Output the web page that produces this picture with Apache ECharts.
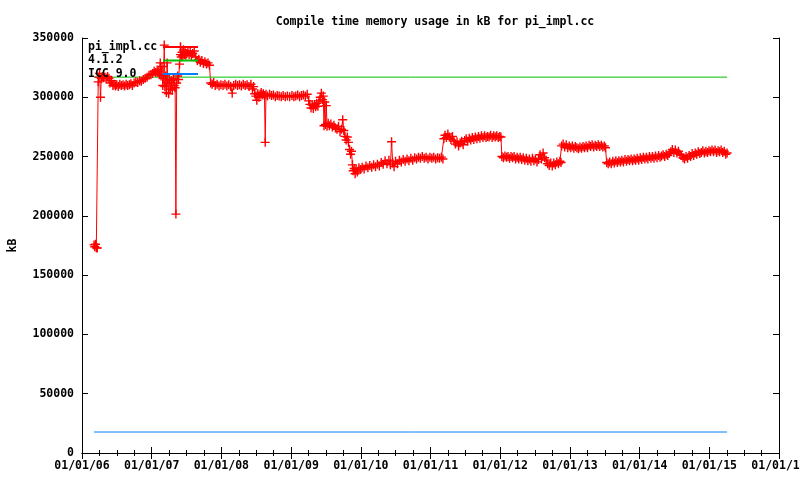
<!DOCTYPE html>
<html>
<head>
<meta charset="utf-8">
<script src="https://cdn.jsdelivr.net/npm/echarts@6/dist/echarts.min.js"></script>
<style>html,body{margin:0;padding:0;background:#fff}#c{width:800px;height:480px}</style>
</head>
<body>
<div id="c"></div>
<script>
// ---- data (kB) ----
const chartTitle = 'Compile time memory usage in kB for pi_impl.cc';
const seriesNames = ['pi_impl.cc', '4.1.2', 'ICC 9.0'];
const xRange = ['2006-01-01', '2016-01-01'];
const yTicks = [0, 50000, 100000, 150000, 200000, 250000, 300000, 350000];
const gcc412KB = 317000;
const icc90KB = 17700;
const refSpan = ['2006-03-05', '2015-04-04'];

const pi2006 = [
 ['2006-03-05',175500],['2006-03-09',174000],['2006-03-13',176000],['2006-03-17',173000],['2006-03-22',172900],
 ['2006-03-27',313000],['2006-03-30',317000],['2006-04-03',320000],['2006-04-08',300000],['2006-04-12',316000],
 ['2006-04-18',317500],['2006-04-24',316500],['2006-05-01',317000],['2006-05-08',316000],['2006-05-15',317500],
 ['2006-05-22',316000],['2006-05-28',312000],['2006-06-05',314000],['2006-06-12',310000],['2006-06-18',311000],
 ['2006-06-25',309500],['2006-07-02',310500],['2006-07-10',309000],['2006-07-18',311000],['2006-07-26',310000],
 ['2006-08-04',310500],['2006-08-12',309500],['2006-08-20',311000],['2006-08-28',310000],['2006-09-06',310500],
 ['2006-09-14',311500],['2006-09-22',310000],['2006-10-01',312000],['2006-10-10',313000],['2006-10-20',312500],
 ['2006-10-30',314000],['2006-11-08',313500],['2006-11-18',315000],['2006-11-28',316000],['2006-12-08',317000],
 ['2006-12-18',318500],['2006-12-28',319000]
];
const pi2007 = [
 ['2007-01-06',320000],['2007-01-14',322000],['2007-01-22',321000],['2007-01-30',323000],['2007-02-05',321500],
 ['2007-02-10',319000],['2007-02-15',329000],['2007-02-19',318000],['2007-02-24',326000],['2007-02-28',310000],
 ['2007-03-04',316000],['2007-03-08',344000],['2007-03-11',309000],['2007-03-15',318000],['2007-03-19',304000],
 ['2007-03-23',329000],['2007-03-27',312000],['2007-03-31',303000],['2007-04-04',315000],['2007-04-09',307000],
 ['2007-04-14',314000],['2007-04-19',306000],['2007-04-24',316000],['2007-04-29',310000],['2007-05-04',308000],
 ['2007-05-08',201500],['2007-05-12',312000],['2007-05-17',318000],['2007-05-22',315000],['2007-05-27',328000],
 ['2007-06-01',336000],['2007-06-05',334000],['2007-06-09',338000],['2007-06-13',335000],['2007-06-17',340000],
 ['2007-06-21',336000],['2007-06-25',338500],['2007-06-29',335500],['2007-07-04',337000],['2007-07-10',339000],
 ['2007-07-16',336000],['2007-07-22',338000],['2007-07-28',335000],['2007-08-04',337000],['2007-08-12',339000],
 ['2007-08-20',334000],['2007-08-28',331000],['2007-09-05',332000],['2007-09-13',329500],['2007-09-21',331000],
 ['2007-09-29',328500],['2007-10-07',330000],['2007-10-15',328000],['2007-10-23',329000],['2007-10-31',327000],
 ['2007-11-06',312000],['2007-11-14',311000],['2007-11-22',312500],['2007-11-30',310000],['2007-12-10',311000],
 ['2007-12-20',309500],['2007-12-30',310500]
];
const pi2008 = [
 ['2008-01-10',310000],['2008-01-20',311000],['2008-01-30',309500],['2008-02-09',310500],['2008-02-19',309000],
 ['2008-02-27',303500],['2008-03-06',310000],['2008-03-16',311000],['2008-03-26',310000],['2008-04-05',310500],
 ['2008-04-15',309500],['2008-04-25',311000],['2008-05-05',310000],['2008-05-15',310500],['2008-05-25',309000],
 ['2008-06-04',311000],['2008-06-12',307000],['2008-06-18',309000],['2008-06-24',303000],['2008-06-30',301000],
 ['2008-07-05',297500],['2008-07-10',303000],['2008-07-16',300000],['2008-07-22',302500],['2008-07-28',304000],
 ['2008-08-02',302000],['2008-08-08',303000],['2008-08-14',301500],['2008-08-18',262000],['2008-08-22',302500],
 ['2008-08-30',301000],['2008-09-10',302500],['2008-09-20',301500],['2008-09-30',302000],['2008-10-10',300500],
 ['2008-10-20',301500],['2008-10-30',301000],['2008-11-10',300500],['2008-11-20',301500],['2008-12-01',300500],
 ['2008-12-12',301000],['2008-12-24',300500]
];
const pi2009 = [
 ['2009-01-05',301500],['2009-01-15',300500],['2009-01-25',301000],['2009-02-04',302000],['2009-02-14',300500],
 ['2009-02-24',301500],['2009-03-06',302000],['2009-03-16',301000],['2009-03-26',302500],['2009-04-03',297000],
 ['2009-04-09',294000],['2009-04-15',291000],['2009-04-21',293500],['2009-04-27',290500],['2009-05-03',294000],
 ['2009-05-09',292000],['2009-05-15',295000],['2009-05-21',292500],['2009-05-27',297000],['2009-06-02',300000],
 ['2009-06-08',303500],['2009-06-14',298000],['2009-06-18',301000],['2009-06-22',276000],['2009-06-26',296000],
 ['2009-06-30',277000],['2009-07-04',293000],['2009-07-08',275500],['2009-07-14',278000],['2009-07-20',276000],
 ['2009-07-28',277500],['2009-08-05',275000],['2009-08-13',276500],['2009-08-21',274000],['2009-08-29',273000],
 ['2009-09-06',275500],['2009-09-14',271000],['2009-09-22',273000],['2009-09-28',281000],['2009-10-04',272000],
 ['2009-10-10',267000],['2009-10-16',264000],['2009-10-22',266500],['2009-10-28',262000],['2009-11-03',256000],
 ['2009-11-08',252000],['2009-11-13',254500],['2009-11-18',243000],['2009-11-22',238000],['2009-11-27',240000],
 ['2009-12-02',235500],['2009-12-07',239000],['2009-12-14',237000],['2009-12-22',240500],['2009-12-30',239000]
];
const pi2010 = [
 ['2010-01-08',241000],['2010-01-18',239500],['2010-01-28',242000],['2010-02-07',240500],['2010-02-17',242500],
 ['2010-02-27',241000],['2010-03-09',243000],['2010-03-19',241500],['2010-03-29',243500],['2010-04-08',242000],
 ['2010-04-18',245000],['2010-04-28',243500],['2010-05-08',246500],['2010-05-18',244000],['2010-05-28',247000],
 ['2010-06-05',243000],['2010-06-11',262500],['2010-06-17',244500],['2010-06-24',241500],['2010-07-02',246000],
 ['2010-07-12',244000],['2010-07-22',247000],['2010-08-01',245500],['2010-08-11',247500],['2010-08-21',246000],
 ['2010-08-31',248000],['2010-09-10',246500],['2010-09-20',248500],['2010-09-30',247000],['2010-10-10',249000],
 ['2010-10-20',248000],['2010-10-30',249500],['2010-11-09',248500],['2010-11-19',250000],['2010-11-29',248500],
 ['2010-12-09',249500],['2010-12-19',248000],['2010-12-29',249500]
];
const pi2011 = [
 ['2011-01-08',248500],['2011-01-18',249500],['2011-01-28',248000],['2011-02-07',249000],['2011-02-17',248500],
 ['2011-02-27',249500],['2011-03-07',248000],['2011-03-12',265000],['2011-03-18',268000],['2011-03-25',266000],
 ['2011-04-02',269000],['2011-04-10',266500],['2011-04-18',264500],['2011-04-26',267000],['2011-05-04',263000],
 ['2011-05-12',260500],['2011-05-20',262500],['2011-05-28',259000],['2011-06-05',261500],['2011-06-13',263000],
 ['2011-06-21',260000],['2011-06-29',263500],['2011-07-07',265000],['2011-07-15',263000],['2011-07-23',265500],
 ['2011-07-31',264000],['2011-08-08',266000],['2011-08-16',264500],['2011-08-24',266500],['2011-09-01',265000],
 ['2011-09-09',267000],['2011-09-17',265500],['2011-09-25',267500],['2011-10-03',266000],['2011-10-11',267500],
 ['2011-10-19',266000],['2011-10-27',267000],['2011-11-04',266500],['2011-11-12',268000],['2011-11-20',266000],
 ['2011-11-28',267500],['2011-12-06',266500],['2011-12-14',267500],['2011-12-22',266000],['2011-12-30',267000]
];
const pi2012 = [
 ['2012-01-05',266500],['2012-01-10',250000],['2012-01-18',249000],['2012-01-26',250500],['2012-02-03',249500],
 ['2012-02-11',250000],['2012-02-19',248500],['2012-02-27',250000],['2012-03-06',249000],['2012-03-14',250000],
 ['2012-03-22',248000],['2012-03-30',249500],['2012-04-07',248000],['2012-04-15',249500],['2012-04-23',247500],
 ['2012-05-01',249000],['2012-05-09',247000],['2012-05-17',248500],['2012-05-25',246500],['2012-06-02',248000],
 ['2012-06-10',246000],['2012-06-18',248500],['2012-06-26',246500],['2012-07-04',248000],['2012-07-12',245500],
 ['2012-07-20',247500],['2012-07-28',251500],['2012-08-05',248000],['2012-08-13',253000],['2012-08-21',249000],
 ['2012-08-29',247000],['2012-09-06',244000],['2012-09-14',242500],['2012-09-22',244500],['2012-09-30',242000],
 ['2012-10-08',244500],['2012-10-16',243000],['2012-10-24',245500],['2012-11-01',244000],['2012-11-09',246000],
 ['2012-11-15',245000],['2012-11-18',259000],['2012-11-26',260500],['2012-12-04',258000],['2012-12-12',260000],
 ['2012-12-20',257500],['2012-12-28',259000]
];
const pi2013 = [
 ['2013-01-05',257500],['2013-01-13',259000],['2013-01-21',257000],['2013-01-29',258500],['2013-02-06',257500],
 ['2013-02-14',256500],['2013-02-22',258000],['2013-03-02',257000],['2013-03-10',258500],['2013-03-18',257500],
 ['2013-03-26',259000],['2013-04-03',257500],['2013-04-11',259500],['2013-04-19',258500],['2013-04-27',260000],
 ['2013-05-05',258000],['2013-05-13',259500],['2013-05-21',258500],['2013-05-29',260000],['2013-06-06',258500],
 ['2013-06-14',259500],['2013-06-22',258000],['2013-06-30',259000],['2013-07-06',257500],['2013-07-12',245000],
 ['2013-07-20',244000],['2013-07-28',245500],['2013-08-05',244000],['2013-08-13',246000],['2013-08-21',244500],
 ['2013-08-29',246500],['2013-09-06',245000],['2013-09-14',246500],['2013-09-22',245500],['2013-09-30',247000],
 ['2013-10-08',245500],['2013-10-16',247500],['2013-10-24',246000],['2013-11-01',247500],['2013-11-09',246500],
 ['2013-11-17',248000],['2013-11-25',246500],['2013-12-03',248000],['2013-12-11',247000],['2013-12-19',248500],
 ['2013-12-27',247000]
];
const pi2014 = [
 ['2014-01-04',249000],['2014-01-12',247500],['2014-01-20',249500],['2014-01-28',248000],['2014-02-05',249500],
 ['2014-02-13',248000],['2014-02-21',250000],['2014-03-01',248500],['2014-03-09',250000],['2014-03-17',248500],
 ['2014-03-25',250500],['2014-04-02',249000],['2014-04-10',251000],['2014-04-18',249500],['2014-04-26',250500],
 ['2014-05-04',251500],['2014-05-12',250000],['2014-05-20',252000],['2014-05-28',251000],['2014-06-05',252500],
 ['2014-06-13',254000],['2014-06-21',256000],['2014-06-29',253500],['2014-07-07',255500],['2014-07-15',253000],
 ['2014-07-23',254500],['2014-07-31',252000],['2014-08-08',251000],['2014-08-16',249000],['2014-08-24',248000],
 ['2014-09-01',250000],['2014-09-09',248500],['2014-09-17',251000],['2014-09-25',250000],['2014-10-03',252500],
 ['2014-10-11',251000],['2014-10-19',253000],['2014-10-27',252000],['2014-11-04',254000],['2014-11-12',252500],
 ['2014-11-20',253500],['2014-11-28',255000],['2014-12-06',253000],['2014-12-14',254500],['2014-12-22',253500],
 ['2014-12-30',255000]
];
const pi2015 = [
 ['2015-01-07',254000],['2015-01-15',255500],['2015-01-23',254000],['2015-01-31',255500],['2015-02-08',253500],
 ['2015-02-16',255000],['2015-02-24',254000],['2015-03-04',255500],['2015-03-12',253500],['2015-03-20',254500],
 ['2015-03-28',252000],['2015-04-04',253000]
];

// ---- chart ----
const piImpl = [].concat(pi2006, pi2007, pi2008, pi2009, pi2010, pi2011, pi2012, pi2013, pi2014, pi2015);
const FONT = 'DejaVu Sans Mono';
const txt = { fontFamily: FONT, fontWeight: 'bold', fontSize: 11.5, color: '#000' };
const YEAR = 366 * 24 * 3600 * 1000;
const crossPath = 'path://M3.8,0H5.2V3.8H9V5.2H5.2V9H3.8V5.2H0V3.8H3.8Z';

const timeAxisBase = {
  type: 'time', min: xRange[0], max: xRange[1],
  maxInterval: YEAR, minInterval: 360 * 24 * 3600 * 1000, splitNumber: 10,
  axisLine: { show: true, lineStyle: { color: '#000', width: 1 } },
  axisTick: { show: true, inside: true, length: 6, lineStyle: { color: '#000' } },
  minorTick: { show: true, splitNumber: 4, length: 3, lineStyle: { color: '#000' } },
  splitLine: { show: false }, minorSplitLine: { show: false }
};
const valAxisBase = {
  type: 'value', min: yTicks[0], max: yTicks[yTicks.length - 1], interval: yTicks[1] - yTicks[0],
  axisLine: { show: true, lineStyle: { color: '#000', width: 1 } },
  axisTick: { show: true, inside: true, length: 6, lineStyle: { color: '#000' } },
  splitLine: { show: false }
};

const chart = echarts.init(document.getElementById('c'), null, { renderer: 'canvas' });
chart.setOption({
  animation: false,
  backgroundColor: '#fff',
  title: { text: chartTitle, left: 430, top: 11, textAlign: 'center',
    textStyle: Object.assign({}, txt) },
  legend: {
    orient: 'vertical', left: 88, top: 41, padding: 0, itemGap: 1.5,
    itemWidth: 35, itemHeight: 12, align: 'right', selectedMode: false,
    formatter: '{a|{name}}',
    textStyle: Object.assign({ rich: { a: Object.assign({ width: 70, align: 'left' }, txt) } }, txt),
    data: [
      { name: seriesNames[0] },
      { name: seriesNames[1], itemStyle: { opacity: 0 } },
      { name: seriesNames[2], itemStyle: { opacity: 0 } }
    ]
  },
  grid: { left: 82, right: 21, top: 38, bottom: 27, containLabel: false, outerBoundsMode: 'none' },
  xAxis: [
    Object.assign({}, timeAxisBase, { position: 'bottom',
      axisLabel: Object.assign({ formatter: '{dd}/{MM}/{yy}', margin: 7, showMinLabel: true, showMaxLabel: true, hideOverlap: false }, txt) }),
    Object.assign({}, timeAxisBase, { position: 'top', axisLabel: { show: false } })
  ],
  yAxis: [
    Object.assign({}, valAxisBase, { position: 'left', name: 'kB', nameLocation: 'middle', nameGap: 63, nameRotate: 90,
      nameTextStyle: Object.assign({}, txt),
      axisLabel: Object.assign({ margin: 8, formatter: function (v) { return String(v); } }, txt) }),
    Object.assign({}, valAxisBase, { position: 'right', axisLabel: { show: false } })
  ],
  series: [
    { name: seriesNames[0], type: 'line', data: piImpl, xAxisIndex: 0, yAxisIndex: 0,
      symbol: crossPath, symbolSize: 9, showAllSymbol: true,
      itemStyle: { color: '#ff0000' }, lineStyle: { color: '#ff0000', width: 1 } },
    { name: seriesNames[1], type: 'line', symbol: 'none',
      data: [[refSpan[0], gcc412KB], [refSpan[1], gcc412KB]],
      itemStyle: { color: '#00c000' }, lineStyle: { color: '#00c000', width: 1 } },
    { name: seriesNames[2], type: 'line', symbol: 'none',
      data: [[refSpan[0], icc90KB], [refSpan[1], icc90KB]],
      itemStyle: { color: '#0080ff' }, lineStyle: { color: '#0080ff', width: 1 } }
  ]
});
</script>
</body>
</html>
